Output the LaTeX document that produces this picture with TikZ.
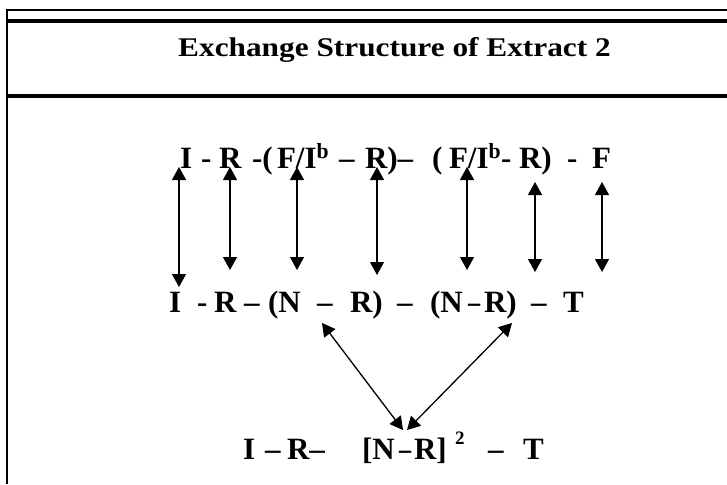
\documentclass[tikz,border=0pt]{standalone}
\usepackage{graphicx}
\usepackage{fontspec}
\setmainfont{Liberation Serif}
\newfontfamily\titlefam[FakeStretch=1.16]{Liberation Serif}
\usetikzlibrary{arrows.meta}
\newcommand\rowfont{\fontsize{31}{37}\selectfont\bfseries}
\newcommand\supfont{\fontsize{19}{23}\selectfont\bfseries}
\newcommand\shortdash{\scalebox{0.78}[1]{\textendash}}
\begin{document}
\begin{tikzpicture}[x=1pt,y=-1pt,
  tok/.style={inner sep=0pt, outer sep=0pt, anchor=base west, font=\rowfont},
  dbl/.style={line width=1.3pt, {Triangle[width=14pt,length=13pt]}-{Triangle[width=14pt,length=13pt]}},
  frameline/.style={line width=#1, line cap=butt}]
\useasboundingbox (0,0) rectangle (727,484);
% frame
\draw[frameline=2pt] (6,10) -- (727,10);
\draw[frameline=2pt] (7,9) -- (7,484);
\draw[frameline=4pt] (7,21) -- (727,21);
\draw[frameline=4pt] (7,96) -- (727,96);
% title
\node[inner sep=0pt, anchor=base west, font={\titlefam\fontsize{27}{32}\selectfont\bfseries}] (title) at (178,57) {Exchange Structure of Extract 2};
% row 1
\node[tok] (a1) at (180,168) {I};
\node[tok] (a2) at (201,168) {-};
\node[tok] (a3) at (219,168) {R};
\node[tok] (a4) at (252,168) {-(};
\node[tok] (a5) at (277,168) {F/I\textsuperscript{b}};
\node[tok] (a6) at (339,168) {\textendash};
\node[tok] (a7) at (365,168) {R)\textendash};
\node[tok] (a8) at (432,168) {(};
\node[tok] (a9) at (449,168) {F/I\textsuperscript{b}-};
\node[tok] (a10) at (519,168) {R)};
\node[tok] (a11) at (567,168) {-};
\node[tok] (a12) at (592,168) {F};
% row 2
\node[tok] (b1) at (169,312) {I};
\node[tok] (b2) at (197,312) {-};
\node[tok] (b3) at (214,312) {R};
\node[tok] (b4) at (244,312) {\textendash};
\node[tok] (b5) at (268,312) {(N};
\node[tok] (b6) at (317,312) {\textendash};
\node[tok] (b7) at (350,312) {R)};
\node[tok] (b8) at (397,312) {\textendash};
\node[tok] (b9) at (430,312) {(N};
\node[tok] (b10) at (468,312) {\shortdash};
\node[tok] (b11) at (484,312) {R)};
\node[tok] (b12) at (531,312) {\textendash};
\node[tok] (b13) at (563,312) {T};
% row 3
\node[tok] (c1) at (243,459) {I};
\node[tok] (c2) at (265,459) {\textendash};
\node[tok] (c3) at (287,459) {R\textendash};
\node[tok] (c4) at (362,459) {[N};
\node[tok] (c5) at (399,459) {\shortdash};
\node[tok] (c6) at (414,459) {R]};
\node[tok, font=\supfont] (c7) at (455,444) {2};
\node[tok] (c8) at (488,459) {\textendash};
\node[tok] (c9) at (523,459) {T};
% arrow ends
\coordinate (u1) at (179,167); \coordinate (d1) at (179,287);
\coordinate (u2) at (230,167); \coordinate (d2) at (230,270);
\coordinate (u3) at (297,167); \coordinate (d3) at (297,270);
\coordinate (u4) at (377,167); \coordinate (d4) at (377,275);
\coordinate (u5) at (467,167); \coordinate (d5) at (467,270);
\coordinate (u6) at (535,182); \coordinate (d6) at (535,272);
\coordinate (u7) at (602,182); \coordinate (d7) at (602,272);
\coordinate (p1) at (322,323); \coordinate (q1) at (403,430);
\coordinate (p2) at (512,323); \coordinate (q2) at (407,430);
\foreach \i in {1,...,7} { \draw[dbl] (u\i) -- (d\i); }
\draw[dbl] (p1) -- (q1);
\draw[dbl] (p2) -- (q2);
\end{tikzpicture}
\end{document}
